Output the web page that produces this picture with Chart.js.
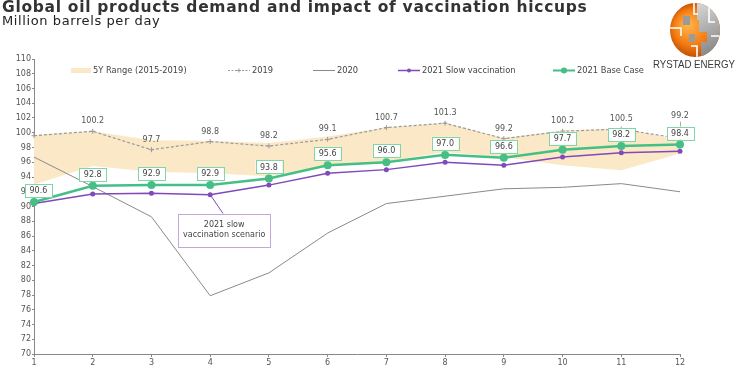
<!DOCTYPE html>
<html>
<head>
<meta charset="utf-8">
<script src="https://cdn.jsdelivr.net/npm/chart.js@4"></script>
<style>
    body { margin: 0; background: #fff; }
    #wrap { position: relative; width: 737px; height: 370px; }
    #title { position: absolute; left: 2px; top: 0; font: bold 15.5px "DejaVu Sans"; letter-spacing: 0.7px; line-height: 1; color: #333; white-space: nowrap; }
    #subtitle { position: absolute; left: 2px; top: 13.5px; font: 13px "DejaVu Sans"; letter-spacing: 0.6px; line-height: 1; color: #222; white-space: nowrap; }
    canvas { position: absolute; left: 0; top: 0; }
</style>
</head>
<body>
<div id="wrap">
    <canvas id="oilChart" width="737" height="370"></canvas>
    <div id="title">Global oil products demand and impact of vaccination hiccups</div>
    <div id="subtitle">Million barrels per day</div>
</div>
<script>
const months = ["1", "2", "3", "4", "5", "6", "7", "8", "9", "10", "11", "12"];
const range5yLow = [93.0, 95.5, 94.7, 94.5, 94.1, 95.4, 96.1, 97.4, 96.7, 95.6, 94.9, 97.2];
const range5yHigh = [99.7, 100.2, 99.0, 98.9, 98.6, 99.5, 100.7, 101.3, 99.3, 100.3, 100.6, 99.0];
const demand2019 = [99.6, 100.2, 97.7, 98.8, 98.2, 99.1, 100.7, 101.3, 99.2, 100.2, 100.5, 99.2];
const demand2020 = [96.7, 92.7, 88.6, 77.9, 81.0, 86.4, 90.4, 91.4, 92.4, 92.6, 93.1, 92.0];
const slowVaccination = [90.4, 91.7, 91.8, 91.6, 92.9, 94.5, 95.0, 96.0, 95.6, 96.7, 97.3, 97.5];
const baseCase = [90.6, 92.8, 92.9, 92.9, 93.8, 95.6, 96.0, 97.0, 96.6, 97.7, 98.2, 98.4];

const GREEN = '#45bf85';
const GREEN_BOX = '#7fd6a8';
const PURPLE = '#8149b9';
const GREY_2019 = '#9a9a9a';
const GREY_2020 = '#8a8a8a';
const BAND = '#fbe8c6';
const FONT = '"DejaVu Sans"';

function drawLogo(ctx) {
    const cx = 695, cy = 30, rx = 25, ry = 27;
    ctx.save();
    ctx.beginPath();
    ctx.ellipse(cx, cy, rx, ry, 0, 0, Math.PI * 2);
    ctx.clip();
    const g = ctx.createRadialGradient(cx - 8, cy - 6, 2, cx, cy, 29);
    g.addColorStop(0, '#ffb347');
    g.addColorStop(0.6, '#f27a12');
    g.addColorStop(1, '#b94a00');
    ctx.fillStyle = g;
    ctx.fillRect(cx - rx, cy - ry, rx * 2, ry * 2);
    // grey patches on the right side
    const gg = ctx.createLinearGradient(cx, cy - ry, cx + rx, cy + ry);
    gg.addColorStop(0, '#d9d9d9');
    gg.addColorStop(1, '#7d7d7d');
    ctx.fillStyle = gg;
    ctx.beginPath();
    ctx.moveTo(cx + 2, cy - ry);
    ctx.lineTo(cx + rx, cy - ry);
    ctx.lineTo(cx + rx, cy + ry);
    ctx.lineTo(cx + 6, cy + ry);
    ctx.lineTo(cx + 6, cy + 12);
    ctx.lineTo(cx + 12, cy + 12);
    ctx.lineTo(cx + 12, cy + 2);
    ctx.lineTo(cx + 4, cy + 2);
    ctx.lineTo(cx + 4, cy - 10);
    ctx.lineTo(cx + 2, cy - 10);
    ctx.closePath();
    ctx.fill();
    ctx.fillStyle = '#9b9b9b';
    ctx.fillRect(cx - 12, cy - 14, 7, 9);
    ctx.fillRect(cx - 6, cy + 4, 6, 8);
    // white breaks
    ctx.strokeStyle = '#fff';
    ctx.lineWidth = 1.6;
    ctx.beginPath();
    ctx.moveTo(cx - 1, cy - ry); ctx.lineTo(cx - 1, cy - 16); ctx.lineTo(cx + 3, cy - 16);
    ctx.moveTo(cx - rx, cy - 2); ctx.lineTo(cx - 14, cy - 2); ctx.lineTo(cx - 14, cy + 6);
    ctx.moveTo(cx + 14, cy - ry); ctx.lineTo(cx + 14, cy - 8); ctx.lineTo(cx + 20, cy - 8);
    ctx.moveTo(cx - 4, cy + 16); ctx.lineTo(cx + 2, cy + 16); ctx.lineTo(cx + 2, cy + ry);
    ctx.moveTo(cx + 16, cy + 6); ctx.lineTo(cx + rx, cy + 6);
    ctx.stroke();
    ctx.restore();

    ctx.save();
    ctx.fillStyle = '#3a3a3a';
    ctx.font = '11px "Liberation Sans"';
    ctx.textAlign = 'left';
    ctx.textBaseline = 'alphabetic';
    ctx.fillText('RYSTAD ENERGY', 653, 68, 82);
    ctx.restore();
}

function drawLegend(ctx) {
    const y = 70.5;
    ctx.save();
    ctx.font = '8.3px ' + FONT;
    ctx.fillStyle = '#444';
    ctx.textBaseline = 'middle';
    ctx.textAlign = 'left';

    ctx.fillStyle = BAND;
    ctx.fillRect(71, y - 2.5, 20, 5);
    ctx.fillStyle = '#444';
    ctx.fillText('5Y Range (2015-2019)', 93, y);

    const lineItem = (x0, color, width, dash, label, marker) => {
        ctx.strokeStyle = color;
        ctx.lineWidth = width;
        ctx.setLineDash(dash);
        ctx.beginPath();
        ctx.moveTo(x0, y); ctx.lineTo(x0 + 22, y);
        ctx.stroke();
        ctx.setLineDash([]);
        if (marker) marker(x0 + 11);
        ctx.fillStyle = '#444';
        ctx.fillText(label, x0 + 24, y);
    };
    lineItem(228, GREY_2019, 1, [2, 1.5], '2019', (mx) => {
        ctx.lineWidth = 1;
        ctx.beginPath();
        ctx.moveTo(mx - 2, y); ctx.lineTo(mx + 2, y);
        ctx.moveTo(mx, y - 2); ctx.lineTo(mx, y + 2);
        ctx.stroke();
    });
    lineItem(313, GREY_2020, 1, [], '2020');
    lineItem(398, PURPLE, 1.5, [], '2021 Slow vaccination', (mx) => {
        ctx.fillStyle = PURPLE;
        ctx.beginPath(); ctx.arc(mx, y, 2, 0, Math.PI * 2); ctx.fill();
    });
    lineItem(553, GREEN, 2, [], '2021 Base Case', (mx) => {
        ctx.fillStyle = GREEN;
        ctx.beginPath(); ctx.arc(mx, y, 3, 0, Math.PI * 2); ctx.fill();
    });
    ctx.restore();
}

const overlayPlugin = {
    id: 'overlay',
    afterDatasetsDraw(chart) {
        const ctx = chart.ctx;
        const xs = chart.scales.x, ys = chart.scales.y;
        ctx.save();
        ctx.font = '8px ' + FONT;
        ctx.textAlign = 'center';
        ctx.textBaseline = 'middle';

        // 2019 value labels
        demand2019.forEach((v, i) => {
            if (i === 0) return;
            const x = xs.getPixelForValue(i), y = ys.getPixelForValue(v);
            let ly = y - 10;
            if (i === demand2019.length - 1) {
                ly = y - 23;
                ctx.strokeStyle = '#aaa';
                ctx.lineWidth = 1;
                ctx.beginPath();
                ctx.moveTo(x + 0.5, ly + 6); ctx.lineTo(x + 0.5, ly + 12);
                ctx.stroke();
            }
            ctx.fillStyle = '#555';
            ctx.fillText(v.toFixed(1), x, ly);
        });

        // base case boxed labels
        baseCase.forEach((v, i) => {
            const x = xs.getPixelForValue(i), y = ys.getPixelForValue(v);
            const t = v.toFixed(1);
            const w = ctx.measureText(t).width + 9, h = 13;
            let bx = x;
            if (bx - w / 2 < 25) bx = 25 + w / 2;
            const cy = y - 11.5;
            ctx.fillStyle = '#fff';
            ctx.fillRect(bx - w / 2, cy - h / 2, w, h);
            ctx.strokeStyle = GREEN_BOX;
            ctx.lineWidth = 1;
            ctx.strokeRect(Math.round(bx - w / 2) + 0.5, Math.round(cy - h / 2) + 0.5, Math.round(w), h);
            ctx.fillStyle = '#444';
            ctx.fillText(t, bx, cy + 0.5);
        });

        // slow vaccination callout
        const px = xs.getPixelForValue(3), py = ys.getPixelForValue(slowVaccination[3]);
        const left = px - 32, top = py + 19, bw = 92, bh = 33;
        ctx.strokeStyle = PURPLE;
        ctx.lineWidth = 1;
        ctx.beginPath();
        ctx.moveTo(px, py); ctx.lineTo(px + 13, top);
        ctx.stroke();
        ctx.fillStyle = '#fff';
        ctx.fillRect(left, top, bw, bh);
        ctx.strokeStyle = '#c0a8dc';
        ctx.strokeRect(Math.round(left) + 0.5, Math.round(top) + 0.5, bw, bh);
        ctx.fillStyle = '#444';
        ctx.fillText('2021 slow', left + bw / 2, top + 11);
        ctx.fillText('vaccination scenario', left + bw / 2, top + 21.5);
        ctx.restore();

        drawLegend(ctx);
    },
    afterDraw(chart) {
        drawLogo(chart.ctx);
    }
};

new Chart(
    document.getElementById("oilChart"),
    {
        type: 'line',
        data: {
            labels: months,
            datasets: [
                {
                    label: '2021 Base Case',
                    data: baseCase,
                    borderColor: GREEN,
                    backgroundColor: GREEN,
                    borderWidth: 2.5,
                    pointRadius: 4,
                    pointBorderWidth: 0,
                    order: 1,
                },
                {
                    label: '2021 Slow vaccination',
                    data: slowVaccination,
                    borderColor: PURPLE,
                    backgroundColor: PURPLE,
                    borderWidth: 1.5,
                    pointRadius: 2.5,
                    pointBorderWidth: 0,
                    order: 2,
                },
                {
                    label: '2019',
                    data: demand2019,
                    borderColor: GREY_2019,
                    backgroundColor: GREY_2019,
                    borderWidth: 1.2,
                    borderDash: [3, 2],
                    pointStyle: 'cross',
                    pointRadius: 2.5,
                    pointBorderWidth: 1,
                    order: 3,
                },
                {
                    label: '2020',
                    data: demand2020,
                    borderColor: GREY_2020,
                    borderWidth: 1,
                    pointRadius: 0,
                    order: 4,
                },
                {
                    label: '5Y low',
                    data: range5yLow,
                    borderWidth: 0,
                    pointRadius: 0,
                    fill: false,
                    order: 10,
                },
                {
                    label: '5Y Range (2015-2019)',
                    data: range5yHigh,
                    borderWidth: 0,
                    pointRadius: 0,
                    backgroundColor: BAND,
                    fill: '-1',
                    order: 11,
                },
            ]
        },
        options: {
            responsive: false,
            animation: false,
            events: [],
            layout: { padding: { top: 59, right: 57, left: 0, bottom: 0 } },
            plugins: {
                legend: { display: false },
                tooltip: { enabled: false },
                title: { display: false },
            },
            scales: {
                x: {
                    offset: false,
                    grid: { drawOnChartArea: false, drawTicks: true, tickLength: 3, color: '#888' },
                    border: { color: '#888' },
                    ticks: { color: '#555', font: { family: 'DejaVu Sans', size: 8 }, padding: 1, maxRotation: 0 },
                    afterFit: (axis) => { axis.height = 16; },
                },
                y: {
                    min: 70,
                    max: 110,
                    grid: { drawOnChartArea: false, drawTicks: true, tickLength: 2, color: '#888' },
                    border: { color: '#888' },
                    ticks: { stepSize: 2, color: '#555', font: { family: 'DejaVu Sans', size: 8 }, padding: 1 },
                    afterFit: (axis) => { axis.width = 34; },
                },
            },
        },
        plugins: [overlayPlugin],
    }
);
</script>
</body>
</html>
